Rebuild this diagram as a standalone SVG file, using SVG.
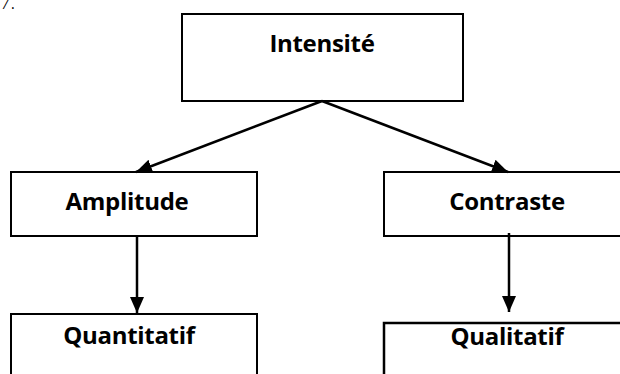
<svg xmlns="http://www.w3.org/2000/svg" width="620" height="374" viewBox="0 0 620 374">
<style>
.box{fill:#fff;stroke:#000;stroke-width:2}
.lbl{font-family:"Open Sans","Liberation Sans",sans-serif;font-weight:bold;font-size:24px;fill:#000;text-anchor:middle;letter-spacing:-0.3px}
.con{stroke:#000;stroke-width:2.5;fill:none}
</style>
<defs>
<marker id="ah" viewBox="0 0 16 14" refX="16" refY="7" markerWidth="16" markerHeight="14" markerUnits="userSpaceOnUse" orient="auto">
<path d="M0,0 L16,7 L0,14 Z" fill="#000"/>
</marker>
</defs>
<rect width="620" height="374" fill="#fff"/>
<text x="2" y="9" font-family="Liberation Mono,monospace" font-size="12" fill="#000">/.</text>
<g id="intensite">
<rect class="box" x="182" y="14" width="281" height="87"/>
<text class="lbl" x="322" y="52">Intensité</text>
</g>
<g id="amplitude">
<rect class="box" x="11" y="172" width="246" height="64"/>
<text class="lbl" x="127" y="210">Amplitude</text>
</g>
<g id="contraste">
<rect class="box" x="384" y="172" width="250" height="64"/>
<text class="lbl" x="507" y="210">Contraste</text>
</g>
<g id="quantitatif">
<rect class="box" x="11" y="314" width="246" height="70"/>
<text class="lbl" x="129" y="344">Quantitatif</text>
</g>
<g id="qualitatif">
<rect class="box" x="384" y="323" width="250" height="60" style="stroke-width:2.5"/>
<text class="lbl" x="507" y="345">Qualitatif</text>
</g>
<g id="connectors">
<line class="con" x1="322" y1="101" x2="136" y2="172" marker-end="url(#ah)"/>
<line class="con" x1="322" y1="101" x2="508" y2="172" marker-end="url(#ah)"/>
<line class="con" x1="137" y1="236" x2="137" y2="313" marker-end="url(#ah)"/>
<line class="con" x1="509" y1="233" x2="509" y2="312" marker-end="url(#ah)"/>
</g>
</svg>
